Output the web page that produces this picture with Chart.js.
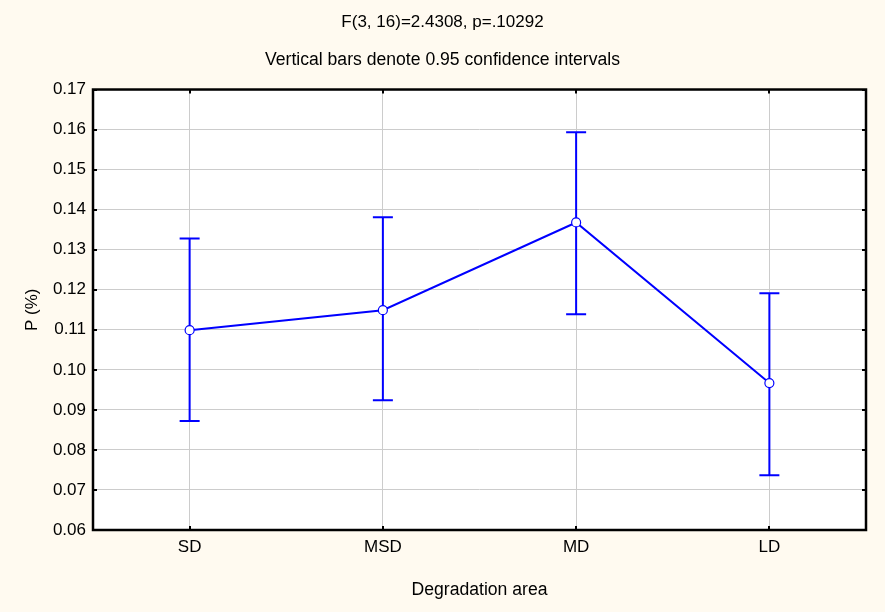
<!DOCTYPE html>
<html>
<head>
<meta charset="utf-8">
<script src="https://cdn.jsdelivr.net/npm/chart.js@4/dist/chart.umd.min.js"></script>
<style>
html,body{margin:0;padding:0;background:#fffaf0;}
#wrap{width:885px;height:612px;}
</style>
</head>
<body>
<div id="wrap"><canvas id="c" width="885" height="612"></canvas></div>
<script>
const categories = ["SD", "MSD", "MD", "LD"];
const means = [0.1099, 0.1149, 0.1368, 0.0967];
const upper = [0.1328, 0.1381, 0.1593, 0.1191];
const lower = [0.0872, 0.0924, 0.1139, 0.0737];
const yTicks = [0.06, 0.07, 0.08, 0.09, 0.10, 0.11, 0.12, 0.13, 0.14, 0.15, 0.16, 0.17];
const titleText = "F(3, 16)=2.4308, p=.10292";
const subtitleText = "Vertical bars denote 0.95 confidence intervals";

const FONT = "'Liberation Sans', Arial, sans-serif";

const bgPlugin = {
  id: 'bg',
  beforeDraw(chart) {
    const {ctx, chartArea: a} = chart;
    ctx.save();
    ctx.fillStyle = '#fffaf0';
    ctx.fillRect(0, 0, chart.width, chart.height);
    ctx.fillStyle = '#ffffff';
    ctx.fillRect(a.left, a.top, a.right - a.left, a.bottom - a.top);
    ctx.restore();
  }
};

const errPlugin = {
  id: 'err',
  beforeDatasetsDraw(chart) {
    const {ctx, scales: {x, y}} = chart;
    ctx.save();
    ctx.strokeStyle = '#0000ff';
    ctx.lineWidth = 2;
    for (let i = 0; i < categories.length; i++) {
      const px = x.getPixelForValue(i);
      const yu = y.getPixelForValue(upper[i]);
      const yl = y.getPixelForValue(lower[i]);
      ctx.beginPath();
      ctx.moveTo(px, yu); ctx.lineTo(px, yl);
      ctx.moveTo(px - 10, yu); ctx.lineTo(px + 10, yu);
      ctx.moveTo(px - 10, yl); ctx.lineTo(px + 10, yl);
      ctx.stroke();
    }
    ctx.restore();
  },
  afterDraw(chart) {
    const {ctx, chartArea: a, scales: {x, y}} = chart;
    ctx.save();
    ctx.strokeStyle = '#000000';
    ctx.lineWidth = 2;
    ctx.beginPath();
    yTicks.forEach(v => {
      const py = Math.round(y.getPixelForValue(v));
      ctx.moveTo(a.left, py); ctx.lineTo(a.left + 4, py);
      ctx.moveTo(a.right, py); ctx.lineTo(a.right - 4, py);
    });
    for (let i = 0; i < categories.length; i++) {
      const px = Math.round(x.getPixelForValue(i));
      ctx.moveTo(px, a.top); ctx.lineTo(px, a.top + 4);
      ctx.moveTo(px, a.bottom); ctx.lineTo(px, a.bottom - 4);
    }
    ctx.stroke();
    ctx.lineWidth = 2.5;
    ctx.strokeRect(a.left, a.top, a.right - a.left, a.bottom - a.top);
    ctx.restore();
  }
};

new Chart(document.getElementById('c'), {
  type: 'line',
  data: {
    labels: categories,
    datasets: [{
      data: means,
      yAxisID: 'y',
      borderColor: '#0000ff',
      borderWidth: 2,
      backgroundColor: '#ffffff',
      pointBackgroundColor: '#ffffff',
      pointBorderColor: '#0000ff',
      pointBorderWidth: 1.2,
      pointRadius: 4.5,
      tension: 0,
      fill: false
    }]
  },
  options: {
    responsive: false,
    animation: false,
    events: [],
    layout: { padding: 0 },
    plugins: {
      legend: { display: false },
      tooltip: { enabled: false },
      title: {
        display: true,
        text: titleText,
        color: '#000',
        font: { family: FONT, size: 17, weight: 'normal' },
        padding: { top: 12, bottom: 8 }
      },
      subtitle: {
        display: true,
        text: subtitleText,
        color: '#000',
        font: { family: FONT, size: 17.6, weight: 'normal' },
        padding: { top: 9.3, bottom: 18.7 }
      }
    },
    scales: {
      x: {
        type: 'category',
        offset: true,
        grid: { display: true, color: '#cccccc', lineWidth: 1, drawTicks: false, offset: false },
        border: { display: false },
        ticks: { color: '#000', font: { family: FONT, size: 17 }, padding: 7 },
        title: {
          display: true, text: 'Degradation area', color: '#000',
          font: { family: FONT, size: 17.6 }, padding: { top: 0, bottom: 11.5 }
        },
        afterFit(s) { s.height = 82; }
      },
      y: {
        min: 0.06, max: 0.17,
        grid: { color: '#cccccc', lineWidth: 1, drawTicks: false },
        border: { display: false },
        afterBuildTicks(s) { s.ticks = yTicks.map(v => ({ value: v })); },
        ticks: {
          color: '#000', font: { family: FONT, size: 17 }, padding: 7,
          callback: v => Number(v).toFixed(2)
        },
        title: {
          display: true, text: 'P (%)', color: '#000',
          font: { family: FONT, size: 17 }, padding: { top: 21.8, bottom: 0 }
        },
        afterFit(s) { s.width = 93; }
      },
      yRight: {
        type: 'linear',
        position: 'right',
        min: 0, max: 1,
        display: true,
        grid: { display: false, drawTicks: false },
        border: { display: false },
        ticks: { display: false },
        afterFit(s) { s.width = 19; }
      }
    }
  },
  plugins: [bgPlugin, errPlugin]
});
</script>
</body>
</html>
